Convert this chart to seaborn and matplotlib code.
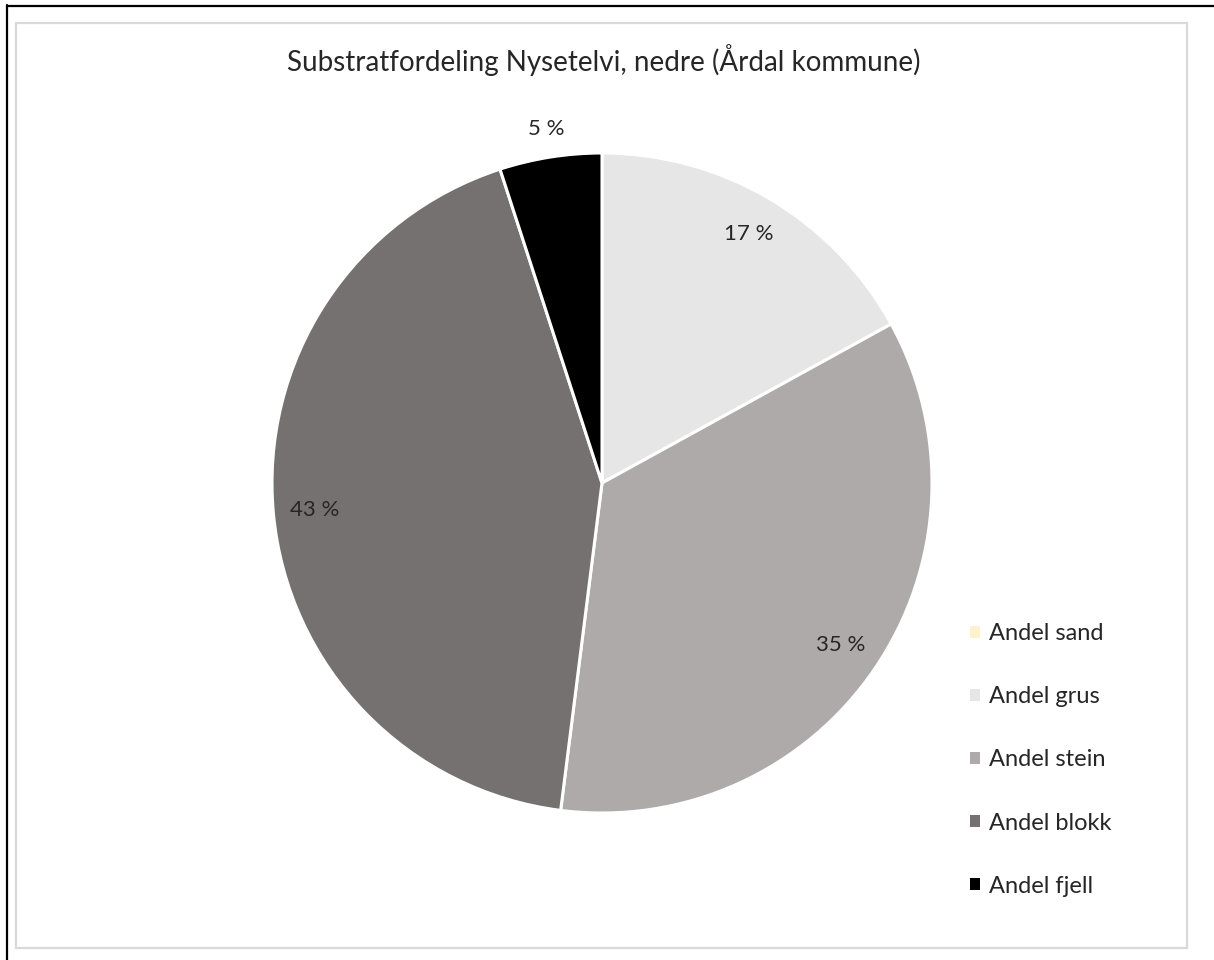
import matplotlib
matplotlib.use("Agg")
import matplotlib.pyplot as plt
from matplotlib.patches import Patch, Rectangle
from matplotlib.lines import Line2D
import numpy as np
import seaborn as sns

categories = ["Andel sand", "Andel grus", "Andel stein", "Andel blokk", "Andel fjell"]
shares = [0, 17, 35, 43, 5]
colors = ["#FFF2CC", "#E7E6E6", "#AEAAAA", "#767171", "#000000"]
title = "Substratfordeling Nysetelvi, nedre (Årdal kommune)"

sns.set_theme(style="white")
plt.rcParams["font.family"] = ["Lato", "DejaVu Sans"]

W, H = 1214, 960
fig = plt.figure(figsize=(W / 100, H / 100), dpi=100)

# frame lines: black outer edge and light grey chart border
fig.add_artist(Line2D([6.5 / W, 6.5 / W], [0, 1 - 5 / H], color="black", lw=1.6))
fig.add_artist(Line2D([6.5 / W, 1], [1 - 5.5 / H, 1 - 5.5 / H], color="black", lw=1.6))
fig.add_artist(Rectangle((16 / W, 1 - 948 / H), (1187 - 16) / W, (948 - 23) / H,
                         transform=fig.transFigure, fill=False, ec="#D9D9D9", lw=1.6))

cx, cy, r = 602, 483, 330
ax = fig.add_axes([(cx - r) / W, 1 - (cy + r) / H, 2 * r / W, 2 * r / H])
wedges, _ = ax.pie(shares, colors=colors, startangle=90, counterclock=False,
                   wedgeprops=dict(edgecolor="white", linewidth=2.2))
ax.set_xlim(-1, 1)
ax.set_ylim(-1, 1)
ax.set_aspect("equal")
ax.axis("off")

# percentage labels: inside the wedge, outside for the narrow ones
for w, v in zip(wedges, shares):
    if v <= 0:
        continue
    mid = np.deg2rad((w.theta1 + w.theta2) / 2)
    dist = 1.085 if v < 8 else 0.875
    ax.text(dist * np.cos(mid), dist * np.sin(mid), f"{v} %", ha="center", va="center",
            fontsize=16, color="#262626", clip_on=False)

fig.text(604 / W, 1 - 60 / H, title, ha="center", va="center", fontsize=20, color="#262626")

handles = [Patch(facecolor=c, edgecolor="none") for c in colors]
fig.legend(handles, categories, loc="center left", bbox_to_anchor=(961 / W, 1 - 760 / H),
           frameon=False, fontsize=17, handlelength=0.42, handleheight=0.42,
           handletextpad=0.38, labelspacing=1.78, borderaxespad=0, labelcolor="#262626")

fig.savefig("out.png", dpi=100)
